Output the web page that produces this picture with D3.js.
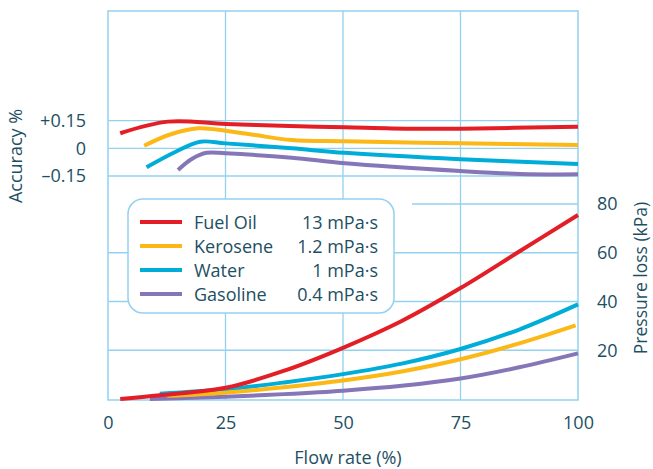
<!DOCTYPE html>
<html>
<head>
<meta charset="utf-8">
<script src="https://cdn.jsdelivr.net/npm/d3@7"></script>
<style>
  body { margin: 0; background: #fff; }
  text { font-family: "Open Sans", sans-serif; fill: #1d4f63; }
</style>
</head>
<body>
<div id="chart"></div>
<script>
// legend / series info
const fluids = ["Fuel Oil", "Kerosene", "Water", "Gasoline"];
const viscosity = ["13 mPa·s", "1.2 mPa·s", "1 mPa·s", "0.4 mPa·s"];
const colors = ["#e31e26", "#fbb817", "#00acd8", "#8576b7"];

// tick values
const flowTicks = [0, 25, 50, 75, 100];
const accuracyTicks = [0.15, 0, -0.15];
const accuracyLabels = ["+0.15", "0", "–0.15"];
const pressureTicks = [20, 40, 60, 80];

// accuracy curves: [flow %, accuracy %]
const fuelOilAccuracy = [[2.6, 0.082], [12.8, 0.145], [25, 0.132], [38.7, 0.121], [50.4, 0.114], [64.3, 0.106], [75, 0.107], [100, 0.117]];
const keroseneAccuracy = [[7.7, 0.014], [13.2, 0.075], [19.2, 0.109], [25, 0.096], [31.3, 0.072], [39.1, 0.045], [50.4, 0.038], [75, 0.027], [100, 0.018]];
const waterAccuracy = [[8.2, -0.103], [14.3, -0.02], [19.6, 0.036], [25, 0.027], [39.1, 0], [50.4, -0.024], [75, -0.059], [100, -0.085]];
const gasolineAccuracy = [[14.9, -0.117], [17.9, -0.056], [21, -0.024], [25, -0.027], [39.1, -0.051], [50.4, -0.081], [75, -0.123], [87.7, -0.139], [100, -0.141]];

// pressure loss curves: [flow %, kPa]
const fuelOilPressure = [[2.6, 0], [11, 1.5], [25, 4.6], [37.5, 11.6], [50, 21], [62.5, 32], [75, 45.5], [87.5, 60.5], [100, 75.5]];
const kerosenePressure = [[12.6, 1.3], [25, 2.6], [37.5, 4.8], [50, 7.6], [62.5, 11.3], [75, 16.3], [87.5, 22.8], [99.5, 30.2]];
const waterPressure = [[11, 2.2], [25, 4], [37.5, 6.8], [50, 10.2], [62.5, 14.5], [75, 20.5], [87.5, 28.5], [100, 38.8]];
const gasolinePressure = [[8.9, 0], [25, 0.9], [37.5, 2], [50, 3.4], [62.5, 5.4], [75, 8.4], [87.5, 13], [100, 18.7]];

const accuracySeries = [fuelOilAccuracy, keroseneAccuracy, waterAccuracy, gasolineAccuracy];
const pressureSeries = [fuelOilPressure, kerosenePressure, waterPressure, gasolinePressure];

const W = 653, H = 469;
const plot = { left: 108, right: 578, top: 11, bottom: 400 };
const gridColor = "#93d1ef";
const fontSize = "18px";

const x = d3.scaleLinear().domain([0, 100]).range([plot.left, plot.right]);
const yAcc = d3.scaleLinear().domain([-0.15, 0.15]).range([176, 120.7]);
const yP = d3.scaleLinear().domain([0, 80]).range([399, 204]);

const svg = d3.select("#chart").append("svg")
  .attr("width", W)
  .attr("height", H);

// vertical gridlines
svg.selectAll(".vgrid")
  .data(flowTicks.slice(1, -1))
  .join("line")
  .attr("x1", d => x(d)).attr("x2", d => x(d))
  .attr("y1", plot.top).attr("y2", plot.bottom)
  .attr("stroke", gridColor).attr("stroke-width", 1.3);

// accuracy gridlines
svg.selectAll(".agrid")
  .data(accuracyTicks)
  .join("line")
  .attr("x1", plot.left).attr("x2", plot.right)
  .attr("y1", d => yAcc(d)).attr("y2", d => yAcc(d))
  .attr("stroke", gridColor).attr("stroke-width", 1.3);

// pressure gridlines (top one starts right of the legend)
svg.selectAll(".pgrid")
  .data(pressureTicks)
  .join("line")
  .attr("x1", d => d === 80 ? 412 : plot.left).attr("x2", plot.right)
  .attr("y1", d => yP(d)).attr("y2", d => yP(d))
  .attr("stroke", gridColor).attr("stroke-width", 1.3);

// frame
svg.append("rect")
  .attr("x", plot.left).attr("y", plot.top)
  .attr("width", plot.right - plot.left).attr("height", plot.bottom - plot.top)
  .attr("fill", "none").attr("stroke", gridColor).attr("stroke-width", 1.5);

const accLine = d3.line().x(d => x(d[0])).y(d => yAcc(d[1])).curve(d3.curveCatmullRom.alpha(0.5));
const pLine = d3.line().x(d => x(d[0])).y(d => yP(d[1])).curve(d3.curveCatmullRom.alpha(0.5));

svg.selectAll(".acc")
  .data(accuracySeries)
  .join("path")
  .attr("d", accLine)
  .attr("fill", "none")
  .attr("stroke", (d, i) => colors[i])
  .attr("stroke-width", 4);

// draw pressure curves back to front
svg.selectAll(".pres")
  .data(pressureSeries.map((d, i) => ({ d, i })).reverse())
  .join("path")
  .attr("d", s => pLine(s.d))
  .attr("fill", "none")
  .attr("stroke", s => colors[s.i])
  .attr("stroke-width", 4);

// axes
svg.append("g")
  .attr("transform", `translate(0,${plot.bottom})`)
  .call(d3.axisBottom(x).tickValues(flowTicks).tickSize(0).tickPadding(16))
  .call(g => g.select(".domain").remove());

svg.append("g")
  .attr("transform", `translate(${plot.left},0)`)
  .call(d3.axisLeft(yAcc).tickValues(accuracyTicks).tickFormat((d, i) => accuracyLabels[i]).tickSize(0).tickPadding(22))
  .call(g => g.select(".domain").remove());

svg.append("g")
  .attr("transform", `translate(${plot.right},0)`)
  .call(d3.axisRight(yP).tickValues(pressureTicks).tickSize(0).tickPadding(19))
  .call(g => g.select(".domain").remove());

svg.selectAll(".tick text")
  .attr("fill", null)
  .style("font-size", fontSize);
svg.selectAll("g").attr("font-family", null).attr("font-size", null);

// axis titles
svg.append("text")
  .attr("x", 348).attr("y", 457)
  .attr("text-anchor", "middle").attr("dominant-baseline", "central")
  .style("font-size", fontSize)
  .text("Flow rate (%)");

svg.append("text")
  .attr("transform", "translate(15,156) rotate(-90)")
  .attr("text-anchor", "middle").attr("dominant-baseline", "central")
  .style("font-size", fontSize)
  .text("Accuracy %");

svg.append("text")
  .attr("transform", "translate(640,278) rotate(-90)")
  .attr("text-anchor", "middle").attr("dominant-baseline", "central")
  .style("font-size", "17.5px")
  .text("Pressure loss (kPa)");

// legend
const legend = svg.append("g");
legend.append("rect")
  .attr("x", 128).attr("y", 199)
  .attr("width", 266).attr("height", 114)
  .attr("rx", 15)
  .attr("fill", "#fff").attr("stroke", gridColor).attr("stroke-width", 1.5);

const rows = legend.selectAll(".row")
  .data(fluids)
  .join("g")
  .attr("transform", (d, i) => `translate(0,${222 + i * 24})`);

rows.append("line")
  .attr("x1", 140).attr("x2", 182)
  .attr("stroke", (d, i) => colors[i]).attr("stroke-width", 4);

rows.append("text")
  .attr("x", 194).attr("dominant-baseline", "central")
  .style("font-size", fontSize)
  .text(d => d);

rows.append("text")
  .attr("x", 378).attr("text-anchor", "end").attr("dominant-baseline", "central")
  .style("font-size", fontSize)
  .text((d, i) => viscosity[i]);
</script>
</body>
</html>
